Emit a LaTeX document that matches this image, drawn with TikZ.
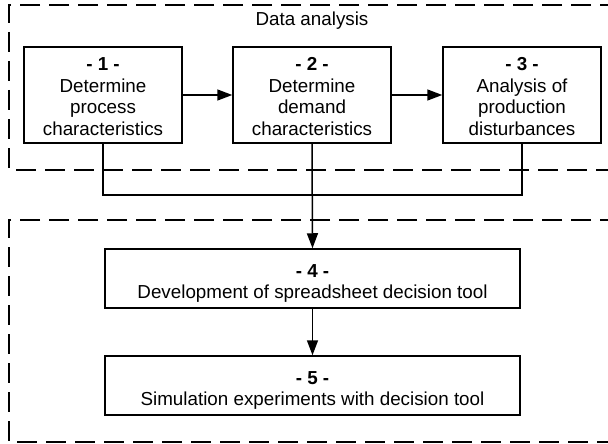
\documentclass[tikz,border=0pt]{standalone}
\usepackage{fontspec}
\setmainfont{Liberation Sans}
\usetikzlibrary{arrows.meta}
\begin{document}
\begin{tikzpicture}[x=1pt,y=-1pt,
  txt/.style={font=\fontsize{18.8}{21.5}\selectfont},
  stepbox/.style={txt,draw,line width=1.5pt,inner sep=0pt,align=center,text depth=0pt},
  tallbox/.style={stepbox,minimum width=158pt,minimum height=96pt,text height=80pt},
  widebox/.style={stepbox,minimum width=415pt,minimum height=59pt,text height=40.6pt},
  grp/.style={draw,line width=1.5pt,dash pattern=on 20pt off 9pt},
  flow/.style={line width=1.5pt,-{Triangle[length=15pt,width=11pt]}},
  link/.style={line width=1.5pt}]
\useasboundingbox (0,0) rectangle (608,444);
\clip (0,0) rectangle (608,444);

% group frames (open on the right)
\draw[grp] (620,5) -- (9,5) -- (9,170) -- (620,170);
\draw[grp] (620,220) -- (9,220) -- (9,442) -- (620,442);
\node[txt,anchor=base,inner sep=0pt] (title) at (312,26) {Data analysis};

% steps
\node[tallbox] (s1) at (103,95)
  {\textbf{- 1 -}\\Determine\\process\\characteristics};
\node[tallbox] (s2) at (312,95)
  {\textbf{- 2 -}\\Determine\\demand\\characteristics};
\node[tallbox] (s3) at (522,95)
  {\textbf{- 3 -}\\Analysis of\\production\\disturbances};
\node[widebox] (s4) at (312.5,278.5)
  {\textbf{- 4 -}\\Development of spreadsheet decision tool};
\node[widebox] (s5) at (312.5,385.5)
  {\textbf{- 5 -}\\Simulation experiments with decision tool};

% connectors
\draw[flow] (s1) -- (s2);
\draw[flow] (s2) -- (s3);
\coordinate (join) at (312,195);
\draw[link] (s1.south) |- (join) -| (s3.south);
\draw[flow] (s2.south) -- (s4.north);
\draw[flow] (s4) -- (s5);
\end{tikzpicture}
\end{document}
